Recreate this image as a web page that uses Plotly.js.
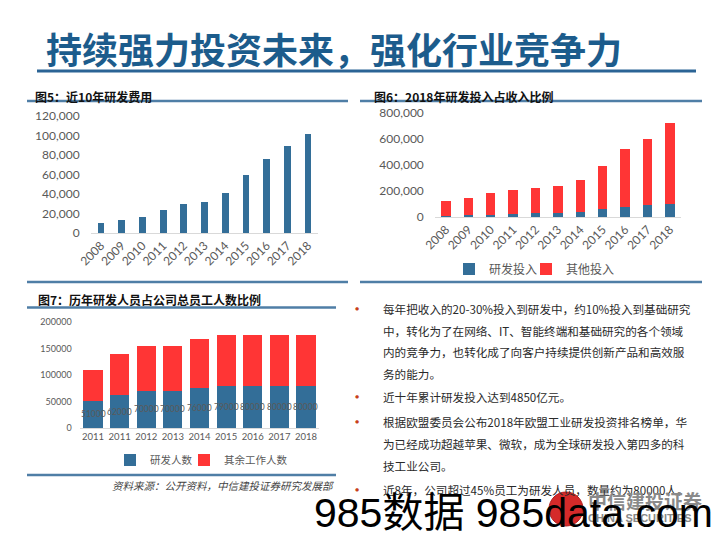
<!DOCTYPE html>
<html><head><meta charset="utf-8">
<script src="https://cdn.plot.ly/plotly-3.0.1.min.js"></script>
<style>html,body{margin:0;padding:0;background:#fff}#chart{width:720px;height:540px}</style>
</head><body><div id="chart"></div>
<script>
// ---- data ----
const years10 = ['2008','2009','2010','2011','2012','2013','2014','2015','2016','2017','2018'];
const rdSpend = [10400, 13340, 16560, 23700, 30090, 31560, 40850, 59610, 76390, 89690, 101510];
const rdInvest = [10400, 13340, 16560, 23700, 30090, 31560, 40850, 59610, 76390, 89690, 101510];
const otherInvest = [114800, 135700, 166000, 180200, 190100, 207500, 247300, 335400, 445200, 513900, 619700];
const years7 = ['2011','2011','2012','2013','2014','2015','2016','2017','2018'];
const rdStaff = [51000, 62000, 70000, 70000, 76000, 79000, 80000, 80000, 80000];
const otherStaff = [59000, 78000, 85000, 85000, 92000, 96000, 96000, 96000, 96000];
const seriesNames6 = ['研发投入', '其他投入'];
const seriesNames7 = ['研发人数', '其余工作人数'];
const pageTitle = '持续强力投资未来，强化行业竞争力';
const fig5Title = '图5：近10年研发费用';
const fig6Title = '图6：2018年研发投入占收入比例';
const fig7Title = '图7：历年研发人员占公司总员工人数比例';
const sourceText = '资料来源：公开资料，中信建投证券研究发展部';
const bullets = [
  ['每年把收入的20-30%投入到研发中，约10%投入到基础研究',
   '中，转化为了在网络、IT、智能终端和基础研究的各个领域',
   '内的竞争力，也转化成了向客户持续提供创新产品和高效服',
   '务的能力。'],
  ['近十年累计研发投入达到4850亿元。'],
  ['根据欧盟委员会公布2018年欧盟工业研发投资排名榜单，华',
   '为已经成功超越苹果、微软，成为全球研发投入第四多的科',
   '技工业公司。'],
  ['近8年，公司超过45%员工为研发人员，数量约为80000人。']
];

// ---- helpers ----
const W = 720, H = 540;
const fx = p => p / W;
const fy = p => 1 - p / H;
const BLUE = '#336E98', RED = '#FF3535', GRAY = '#595959';
const CJK = '"Noto Sans CJK SC", "Noto Sans", sans-serif';
const NUM = 'Lato, "Noto Sans CJK SC", sans-serif';

const staffIdx = years7.map((_, i) => i);

const traces = [
  {type:'bar', x: years10, y: rdSpend, xaxis:'x', yaxis:'y', marker:{color:BLUE},
   width:0.33, showlegend:false, hoverinfo:'none'},
  {type:'bar', x: years10, y: rdInvest, name: seriesNames6[0], xaxis:'x2', yaxis:'y2',
   marker:{color:BLUE}, width:0.42, legend:'legend'},
  {type:'bar', x: years10, y: otherInvest, name: seriesNames6[1], xaxis:'x2', yaxis:'y2',
   marker:{color:RED}, width:0.42, legend:'legend3'},
  {type:'bar', x: staffIdx, y: rdStaff, name: seriesNames7[0], xaxis:'x3', yaxis:'y3',
   marker:{color:BLUE}, width:0.72, legend:'legend2'},
  {type:'bar', x: staffIdx, y: otherStaff, name: seriesNames7[1], xaxis:'x3', yaxis:'y3',
   marker:{color:RED}, width:0.72, legend:'legend4'}
];

const tickFont = {family: NUM, size: 12, color: GRAY};
const annotations = [];
const shapes = [];

// data labels for R&D staff (centred in the blue segment)
rdStaff.forEach((v, i) => {
  annotations.push({xref:'x3', yref:'y3', x: staffIdx[i], y: v / 2, text: String(v), showarrow:false,
    xanchor:'center', yanchor:'middle', font:{family:NUM, size:8.5, color:'#5a5a5a'}});
});

// page title + rule
annotations.push({xref:'paper', yref:'paper', x:fx(44), y:fy(48), xanchor:'left', yanchor:'middle',
  text:'<b>'+pageTitle+'</b>', showarrow:false, font:{family:CJK, size:36, color:'#1C5C8C'}});
shapes.push({type:'line', xref:'paper', yref:'paper', x0:fx(37), x1:fx(696), y0:fy(71), y1:fy(71),
  line:{color:'#2B6495', width:3}});

// figure headers and rules
[[fig5Title, 33, 96],[fig6Title, 372, 96],[fig7Title, 36, 299]].forEach(([t,x,y]) => {
  annotations.push({xref:'paper', yref:'paper', x:fx(x), y:fy(y), xanchor:'left', yanchor:'middle',
    text:'<b>'+t+'</b>', showarrow:false, font:{family:CJK, size:12, color:'#111'}});
});
[[27,348,101],[27,348,282],[360,702,101],[360,702,282],[27,336,307.5],[27,336,475]].forEach(([a,b,y]) => {
  shapes.push({type:'line', xref:'paper', yref:'paper', x0:fx(a), x1:fx(b), y0:fy(y), y1:fy(y),
    line:{color:'#4F7EA6', width:2.5}});
});

// source
annotations.push({xref:'paper', yref:'paper', x:fx(336), y:fy(485), xanchor:'right', yanchor:'middle',
  text:'<i>'+sourceText+'</i>', showarrow:false, font:{family:CJK, size:10.5, color:'#444'}});

// bullet text
const lineYs = [[309,331,352,374],[397],[422,444,466],[490]];
bullets.forEach((lines, bi) => {
  annotations.push({xref:'paper', yref:'paper', x:fx(357), y:fy(lineYs[bi][0]-1), xanchor:'center', yanchor:'middle',
    text:'●', showarrow:false, font:{family:NUM, size:7, color:'#C8401A'}});
  lines.forEach((ln, li) => {
    annotations.push({xref:'paper', yref:'paper', x:fx(381), y:fy(lineYs[bi][li]), xanchor:'left', yanchor:'middle',
      text: ln, showarrow:false, font:{family:CJK, size:11.6, color:'#2a2a2a'}});
  });
});

// logo (grey) + watermark
shapes.push({type:'circle', xref:'paper', yref:'paper', x0:fx(549), x1:fx(583), y0:fy(526), y1:fy(492),
  fillcolor:'#D42A2A', line:{color:'#B01E1E', width:1}});
annotations.push({xref:'paper', yref:'paper', x:fx(586), y:fy(500), xanchor:'left', yanchor:'middle',
  text:'<b>中信建投证券</b>', showarrow:false, font:{family:CJK, size:19, color:'#8A8A8A'}});
annotations.push({xref:'paper', yref:'paper', x:fx(586), y:fy(518), xanchor:'left', yanchor:'middle',
  text:'<b>CHINA SECURITIES</b>', showarrow:false, font:{family:'Liberation Sans', size:11, color:'#8A8A8A'}});
annotations.push({xref:'paper', yref:'paper', x:fx(312), y:fy(513), xanchor:'left', yanchor:'middle',
  text:'985数据 985data.com', showarrow:false, font:{family:'"Liberation Sans", "Noto Sans CJK SC"', size:41, color:'#000'}});

const legendBase = (x, y, size) => ({orientation:'h', x:fx(x), y:fy(y), xanchor:'left', yanchor:'middle',
  font:{family:CJK, size:size, color:GRAY}, itemwidth:30, bgcolor:'rgba(0,0,0,0)'});

const layout = {
  width: W, height: H, margin:{l:0, r:0, t:0, b:0},
  paper_bgcolor:'#fff', plot_bgcolor:'rgba(0,0,0,0)',
  barmode:'stack', bargap:0.3,
  font:{family:NUM, color:GRAY},
  xaxis:{domain:[fx(90.6), fx(318.4)], anchor:'y', type:'category', tickangle:-45, tickfont:tickFont,
    showline:true, linecolor:'#D9D9D9', linewidth:1, ticks:'', showgrid:false},
  yaxis:{domain:[fy(233), fy(116)], anchor:'x', range:[0,120000], dtick:20000, tickformat:',d',
    tickfont:tickFont, showgrid:false, zeroline:false, showline:false, ticks:'', ticklabelstandoff:10},
  xaxis2:{domain:[fx(434.8), fx(681.2)], anchor:'y2', type:'category', tickangle:-45, tickfont:tickFont,
    showline:true, linecolor:'#D9D9D9', linewidth:1, ticks:'', showgrid:false},
  yaxis2:{domain:[fy(217), fy(113)], anchor:'x2', range:[0,800000], dtick:200000, tickformat:',d',
    tickfont:tickFont, showgrid:false, zeroline:false, showline:false, ticks:'', ticklabelstandoff:10},
  xaxis3:{domain:[fx(79.7), fx(319.3)], anchor:'y3', range:[-0.5, 8.5], tickvals: staffIdx, ticktext: years7,
    tickangle:0, tickfont:{family:NUM, size:9.5, color:GRAY},
    showline:true, linecolor:'#D9D9D9', linewidth:1, ticks:'', showgrid:false, zeroline:false},
  yaxis3:{domain:[fy(428), fy(322)], anchor:'x3', range:[0,200000], dtick:50000, tickformat:'d',
    tickfont:{family:NUM, size:9, color:GRAY}, showgrid:false, zeroline:false, showline:false, ticks:'', ticklabelstandoff:7},
  legend: legendBase(449, 269, 12),
  legend3: legendBase(526, 269, 12),
  legend2: legendBase(110, 460, 10.5),
  legend4: legendBase(184, 460, 10.5),
  annotations, shapes
};

Plotly.newPlot('chart', traces, layout, {staticPlot:true, displayModeBar:false});
</script></body></html>
